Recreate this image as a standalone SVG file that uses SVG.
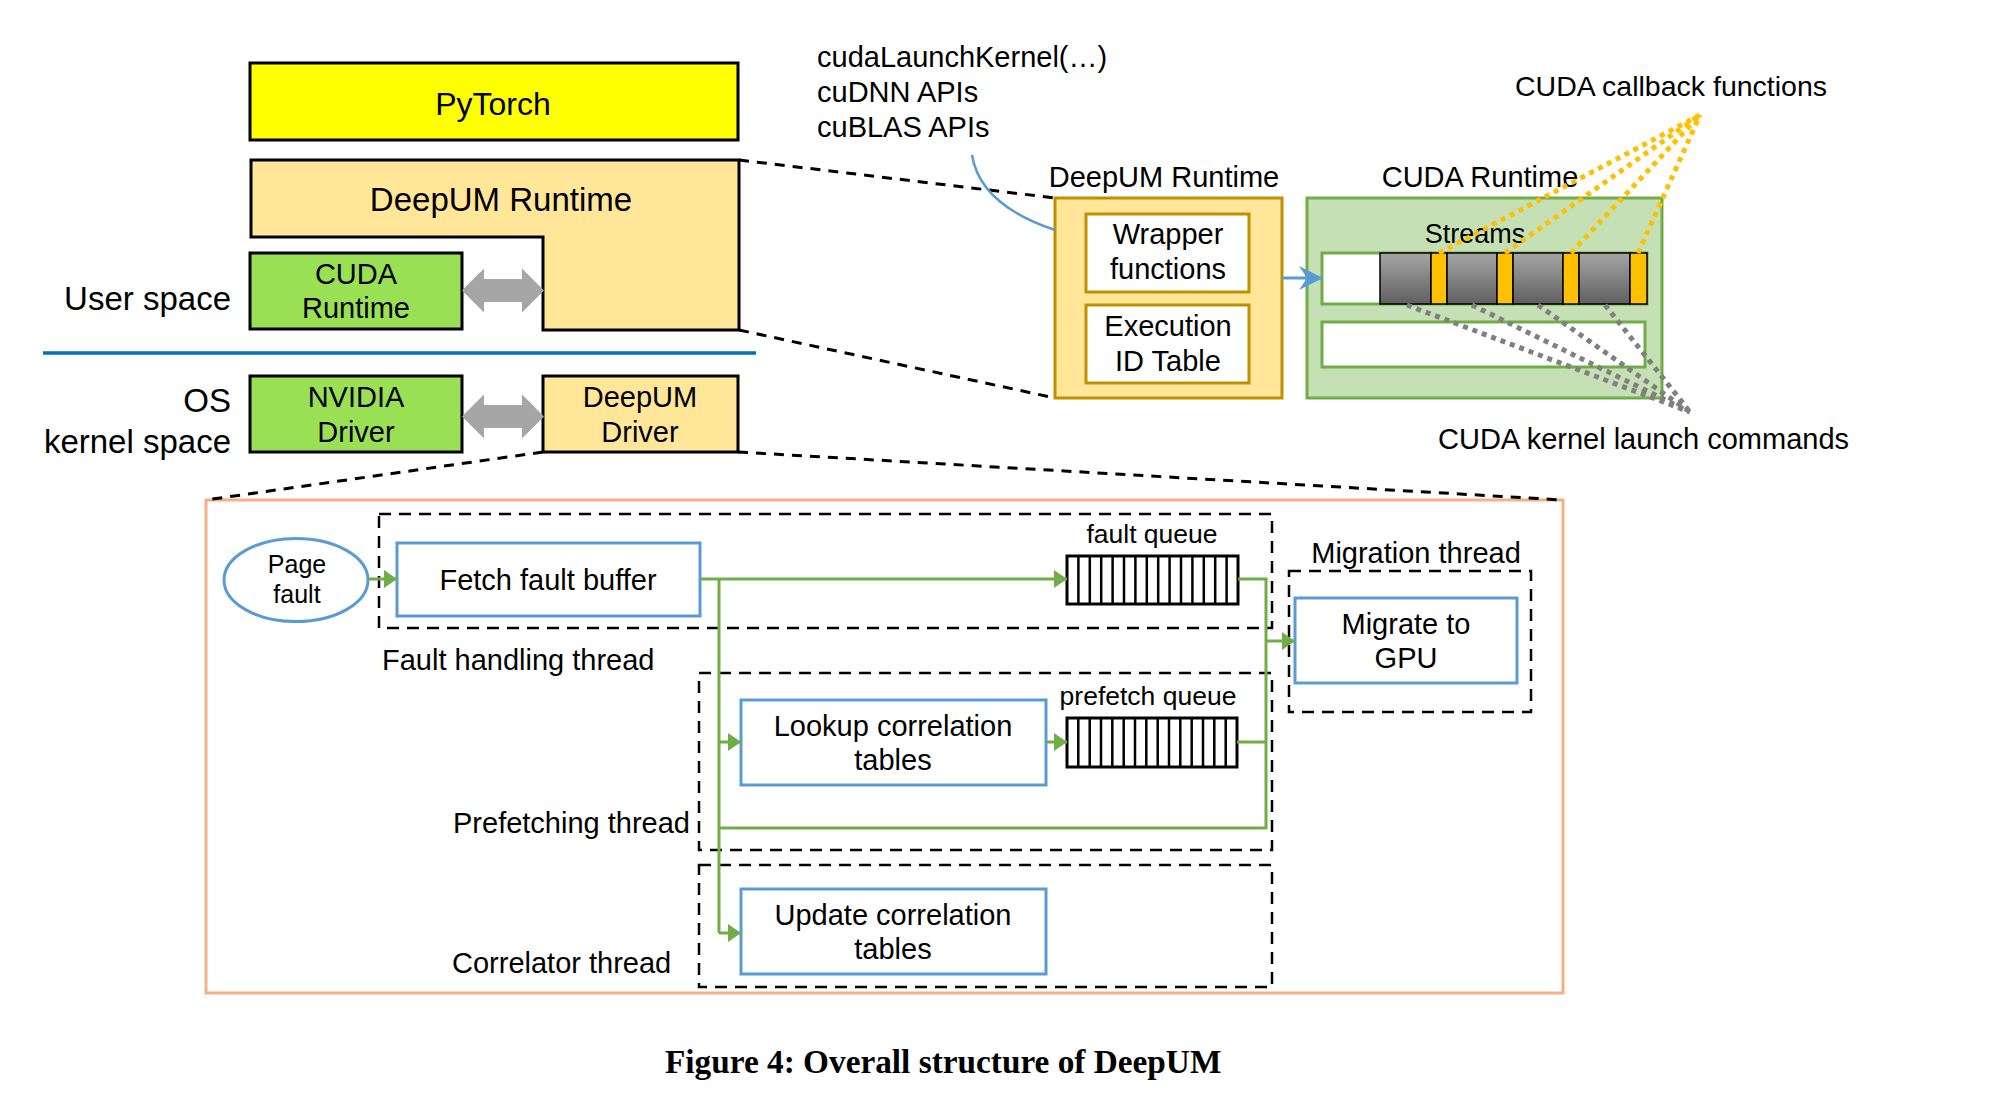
<svg xmlns="http://www.w3.org/2000/svg" width="2005" height="1099" viewBox="0 0 2005 1099">
<style>
text{font-family:"Liberation Sans",Arial,sans-serif;fill:#000}
text.cap{font-family:"Liberation Serif","Times New Roman",serif;font-weight:bold;font-size:33.3px}
.c{text-anchor:middle}
.e{text-anchor:end}
.s29{font-size:29px}
.blk{stroke:#000;stroke-width:3}
.gold{stroke:#BF9000;stroke-width:3}
.blue{fill:#fff;stroke:#5B9BD5;stroke-width:3}
.thr{fill:none;stroke:#000;stroke-width:2.5;stroke-dasharray:12 8}
.zoom{fill:none;stroke:#000;stroke-width:3;stroke-dasharray:10 8}
.gl{fill:none;stroke:#70AD47;stroke-width:3}
.q{fill:#fff;stroke:#000;stroke-width:3}
.qi{fill:none;stroke:#000;stroke-width:2.5}
.od{fill:none;stroke:#FFC000;stroke-width:5;stroke-dasharray:5 5}
.gd{fill:none;stroke:#808080;stroke-width:5;stroke-dasharray:5 5}
.ga{fill:#A6A6A6}
.orb{fill:#FFC000;stroke:#000;stroke-width:1.5}
.gry{fill:url(#gg);stroke:#000;stroke-width:1.5}
</style>
<defs>
<linearGradient id="gg" x1="0" y1="0" x2="0" y2="1">
<stop offset="0" stop-color="#A6A6A6"/>
<stop offset="1" stop-color="#5F5F5F"/>
</linearGradient>
<marker id="ga" viewBox="0 0 13 18" refX="13" refY="9" markerWidth="13" markerHeight="18" markerUnits="userSpaceOnUse" orient="auto">
<path d="M0 0L13 9L0 18Z" fill="#70AD47"/>
</marker>
<marker id="ba" viewBox="0 0 24 24" refX="23" refY="12" markerWidth="24" markerHeight="24" markerUnits="userSpaceOnUse" orient="auto">
<path d="M0 0L24 12L0 24L8 12Z" fill="#5B9BD5"/>
</marker>
</defs>
<rect width="2005" height="1099" fill="#fff"/>

<g id="pytorch">
<rect x="250" y="63" width="488" height="77" fill="#FFFF00" class="blk"/>
<text x="493" y="115" class="c" font-size="32">PyTorch</text>
</g>
<g id="deepum-runtime">
<path d="M251 160H739V330H543V237H251Z" fill="#FFE699" class="blk"/>
<text x="501" y="211" class="c" font-size="33">DeepUM Runtime</text>
</g>
<g id="cuda-runtime">
<rect x="250" y="253" width="212" height="76" fill="#99E055" class="blk"/>
<text x="356" y="284" class="c s29">CUDA</text>
<text x="356" y="318" class="c s29">Runtime</text>
</g>
<g id="nvidia-driver">
<rect x="250" y="376" width="212" height="76" fill="#99E055" class="blk"/>
<text x="356" y="407" class="c s29">NVIDIA</text>
<text x="356" y="442" class="c s29">Driver</text>
</g>
<g id="deepum-driver">
<rect x="543" y="376" width="195" height="76" fill="#FFE699" class="blk"/>
<text x="640" y="407" class="c s29">DeepUM</text>
<text x="640" y="442" class="c s29">Driver</text>
</g>
<g id="space-labels">
<text x="231" y="310" class="e" font-size="33">User space</text>
<text x="231" y="412" class="e" font-size="33">OS</text>
<text x="231" y="453" class="e" font-size="33">kernel space</text>
<line x1="43" y1="353" x2="756" y2="353" stroke="#0070C0" stroke-width="3.5"/>
</g>

<g id="api-labels">
<text x="817" y="67" class="s29">cudaLaunchKernel(…)</text>
<text x="817" y="102" class="s29">cuDNN APIs</text>
<text x="817" y="137" class="s29">cuBLAS APIs</text>
</g>

<g id="deepum-runtime-detail">
<text x="1164" y="187" class="c s29">DeepUM Runtime</text>
<rect x="1055" y="198" width="227" height="200" fill="#FFE699" class="gold"/>
<rect x="1086" y="214" width="163" height="78" fill="#fff" class="gold"/>
<text x="1168" y="244" class="c s29">Wrapper</text>
<text x="1168" y="279" class="c s29">functions</text>
<rect x="1086" y="305" width="163" height="78" fill="#fff" class="gold"/>
<text x="1168" y="336" class="c s29">Execution</text>
<text x="1168" y="371" class="c s29">ID Table</text>
</g>

<g id="cuda-runtime-detail">
<text x="1480" y="187" class="c s29">CUDA Runtime</text>
<rect x="1307" y="198" width="355" height="200" fill="#C5E0B4" stroke="#70AD47" stroke-width="3"/>
<text x="1475" y="243" class="c" font-size="27">Streams</text>
<rect x="1322" y="253" width="325" height="51" fill="#fff" stroke="#70AD47" stroke-width="3"/>
<rect x="1380" y="253" width="51" height="51" class="gry"/>
<rect x="1431" y="253" width="16" height="51" class="orb"/>
<rect x="1447" y="253" width="50" height="51" class="gry"/>
<rect x="1497" y="253" width="16" height="51" class="orb"/>
<rect x="1513" y="253" width="50" height="51" class="gry"/>
<rect x="1563" y="253" width="16" height="51" class="orb"/>
<rect x="1579" y="253" width="51" height="51" class="gry"/>
<rect x="1630" y="253" width="17" height="51" class="orb"/>
<rect x="1322" y="322" width="323" height="45" fill="#fff" stroke="#70AD47" stroke-width="3"/>
</g>

<g id="callout-labels">
<text x="1515" y="96" font-size="28.5">CUDA callback functions</text>
<text x="1438" y="449" class="s29">CUDA kernel launch commands</text>
</g>

<g id="thread-detail">
<rect x="206" y="500" width="1357" height="493" fill="none" stroke="#F4B183" stroke-width="3"/>
<rect x="379" y="514" width="893" height="114" class="thr"/>
<rect x="699" y="673" width="573" height="177" class="thr"/>
<rect x="699" y="865" width="573" height="122" class="thr"/>
<rect x="1289" y="571" width="242" height="141" class="thr"/>
<text x="382" y="670" class="s29">Fault handling thread</text>
<text x="453" y="833" class="s29">Prefetching thread</text>
<text x="452" y="973" class="s29">Correlator thread</text>
<text x="1416" y="563" class="c s29">Migration thread</text>
</g>

<g id="page-fault">
<ellipse cx="296" cy="580" rx="72" ry="41.5" fill="#fff" stroke="#5B9BD5" stroke-width="3"/>
<text x="297" y="573" class="c" font-size="25">Page</text>
<text x="297" y="603" class="c" font-size="25">fault</text>
</g>
<g id="fetch-fault-buffer">
<rect x="397" y="543" width="303" height="73" class="blue"/>
<text x="548" y="590" class="c s29">Fetch fault buffer</text>
</g>
<g id="fault-queue">
<text x="1152" y="543" class="c" font-size="26.5">fault queue</text>
<rect x="1067" y="556" width="171" height="48" class="q"/>
<path class="qi" d="M1078.4 556V604M1089.8 556V604M1101.2 556V604M1112.6 556V604M1124 556V604M1135.4 556V604M1146.8 556V604M1158.2 556V604M1169.6 556V604M1181 556V604M1192.4 556V604M1203.8 556V604M1215.2 556V604M1226.6 556V604"/>
</g>
<g id="lookup">
<rect x="741" y="700" width="305" height="85" class="blue"/>
<text x="893" y="736" class="c s29">Lookup correlation</text>
<text x="893" y="770" class="c s29">tables</text>
</g>
<g id="prefetch-queue">
<text x="1148" y="705" class="c" font-size="26.5">prefetch queue</text>
<rect x="1067" y="718" width="170" height="49" class="q"/>
<path class="qi" d="M1078.3 718V767M1089.7 718V767M1101 718V767M1112.3 718V767M1123.7 718V767M1135 718V767M1146.3 718V767M1157.7 718V767M1169 718V767M1180.3 718V767M1191.7 718V767M1203 718V767M1214.3 718V767M1225.7 718V767"/>
</g>
<g id="update">
<rect x="741" y="889" width="305" height="85" class="blue"/>
<text x="893" y="925" class="c s29">Update correlation</text>
<text x="893" y="959" class="c s29">tables</text>
</g>
<g id="migrate">
<rect x="1295" y="598" width="222" height="85" class="blue"/>
<text x="1406" y="634" class="c s29">Migrate to</text>
<text x="1406" y="668" class="c s29">GPU</text>
</g>

<g id="connectors">
<polygon class="ga" points="462,290.5 484,268.5 484,279 522,279 522,268.5 544,290.5 522,312.5 522,302 484,302 484,312.5"/>
<polygon class="ga" points="462,416.5 484,394.5 484,405 522,405 522,394.5 544,416.5 522,438.5 522,428 484,428 484,438.5"/>
<line class="zoom" x1="739" y1="160" x2="1055" y2="198"/>
<line class="zoom" x1="739" y1="330" x2="1055" y2="398"/>
<line class="zoom" x1="543" y1="452" x2="206" y2="500"/>
<line class="zoom" x1="738" y1="452" x2="1563" y2="500"/>
<path d="M972 155Q980 205 1055 230" fill="none" stroke="#5B9BD5" stroke-width="2.5"/>
<line x1="1282" y1="278" x2="1322" y2="278" stroke="#5B9BD5" stroke-width="3" marker-end="url(#ba)"/>
<path class="od" d="M1439 253L1700 115M1505 253L1700 115M1571 253L1700 115M1638 253L1700 115"/>
<path class="gd" d="M1407 305L1690 412M1472 305L1690 412M1538 305L1690 412M1605 305L1690 412"/>
<line class="gl" x1="368" y1="579" x2="397" y2="579" marker-end="url(#ga)"/>
<line class="gl" x1="700" y1="579" x2="1067" y2="579" marker-end="url(#ga)"/>
<line class="gl" x1="719" y1="579" x2="719" y2="933"/>
<line class="gl" x1="719" y1="742" x2="741" y2="742" marker-end="url(#ga)"/>
<line class="gl" x1="719" y1="933" x2="741" y2="933" marker-end="url(#ga)"/>
<line class="gl" x1="1046" y1="742" x2="1067" y2="742" marker-end="url(#ga)"/>
<path class="gl" d="M1238 579H1266V828H719"/>
<line class="gl" x1="1237" y1="742" x2="1266" y2="742"/>
<line class="gl" x1="1266" y1="641" x2="1295" y2="641" marker-end="url(#ga)"/>
</g>

<text x="665" y="1073" class="cap">Figure 4: Overall structure of DeepUM</text>
</svg>
